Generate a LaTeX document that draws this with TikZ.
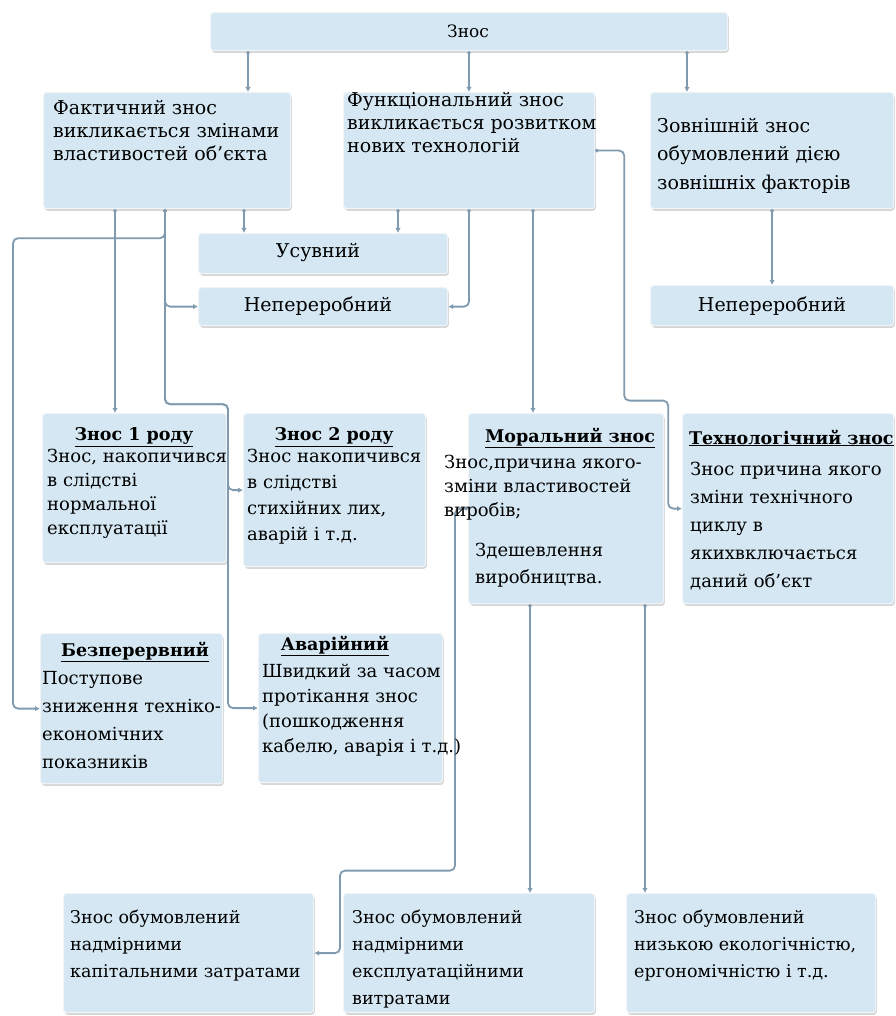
\documentclass[tikz,border=0pt]{standalone}
\usepackage{fontspec}
\setmainfont{DejaVu Serif}
\usetikzlibrary{arrows.meta,shadows,positioning}
\definecolor{boxfill}{RGB}{212,231,243}
\definecolor{boxline}{RGB}{238,244,248}
\definecolor{linkc}{RGB}{128,155,175}
\begin{document}
\begin{tikzpicture}[x=1pt,y=-1pt,
	box/.style={draw=boxline,fill=boxfill,line width=1.2pt,rounded corners=3pt,anchor=north west,inner sep=0pt,
		drop shadow={shadow xshift=1.2pt,shadow yshift=-2.2pt,opacity=.4,fill=black!40}},
	link/.style={draw=linkc,line width=1.8pt,rounded corners=5pt,{Circle[length=3.4pt]}-{Latex[length=5pt,width=5.4pt]}},
	txt/.style={anchor=north west,inner sep=0pt,align=left,font=\fontsize{18}{23}\selectfont},
	hd/.style={inner sep=0pt,font=\fontsize{17.5}{20}\selectfont\bfseries},
	one/.style={inner sep=0pt,font=\fontsize{19}{20}\selectfont}]
	\useasboundingbox (0,0) rectangle (895,1016);
	% boxes
	\foreach \nm/\l/\t/\w/\h in {zn/210/12/517/38,fakt/43/92/247/116,func/343/92/251/116,zovn/650/92/243/116,
		usuv/198/233/249/40,nepl/198/287/249/38,nepr/650/285/243/40,
		rid1/42/413/184/149,rid2/243/413/182/153,moral/468/413/195/190,tekh/682/413/211/190,
		bezp/40/633/182/150,avar/258/633/184/149,
		vytr1/63/893/250/119,vytr2/343/893/251/119,vytr3/626/893/249/119}
	\node[box,minimum width=\w pt,minimum height=\h pt] (\nm) at (\l,\t) {};
	% connectors
	\draw[link] ([xshift=38pt]zn.south west) -- ([xshift=205pt]fakt.north west);
	\draw[link] ([xshift=259pt]zn.south west) -- ([xshift=126pt]func.north west);
	\draw[link] ([xshift=477pt]zn.south west) -- ([xshift=37pt]zovn.north west);
	\draw[link] ([xshift=201pt]fakt.south west) -- ([xshift=46pt]usuv.north west);
	\draw[link] ([xshift=72pt]fakt.south west) -- ([xshift=73pt]rid1.north west);
	\draw[link] ([xshift=122pt]fakt.south west) -- ++(0,29) -- ++(-152,0) |- (bezp.west);
	\draw[link] ([xshift=122pt]fakt.south west) |- (nepl.west);
	\draw[link] ([xshift=122pt]fakt.south west) -- ++(0,195) -- ++(63,0) |- (avar.west);
	\draw[link] ([xshift=122pt]fakt.south west) -- ++(0,195) -- ++(63,0) |- (rid2.west);
	\draw[link] ([xshift=55pt]func.south west) -- ([xshift=200pt]usuv.north west);
	\draw[link] ([xshift=126pt]func.south west) |- (nepl.east);
	\draw[link] ([xshift=190pt]func.south west) -- ([xshift=65pt]moral.north west);
	\draw[link] (func.east) -- ++(29,0) -- ++(0,250) -- ++(44,0) |- (tekh.west);
	\draw[link] (zovn.south) -- (nepr.north);
	\draw[link] ([xshift=62pt]moral.south west) -- ([xshift=187pt]vytr2.north west);
	\draw[link] ([xshift=177pt]moral.south west) -- ([xshift=19pt]vytr3.north west);
	\draw[link] (moral.west) -- ++(-13,0) -- ++(0,362) -- ++(-115,0) |- (vytr1.east);
	% texts
	\node[one,font=\fontsize{17}{18}\selectfont] (t-zn) at (468,31) {Знос};
	\node[txt,font=\fontsize{19}{23}\selectfont] (t-fakt) at (53,100) {Фактичний знос\\викликається змінами\\властивостей об’єкта};
	\node[txt,font=\fontsize{19}{23}\selectfont] (t-func) at (347,92) {Функціональний знос\\викликається розвитком\\нових технологій};
	\node[txt,font=\fontsize{19}{28.5}\selectfont] (t-zovn) at (657,118) {Зовнішній знос\\обумовлений дією\\зовнішніх факторів};
	\node[one] (t-usuv) at (318,253) {Усувний};
	\node[one] (t-nepl) at (318,306) {Непереробний};
	\node[one] (t-nepr) at (772,306) {Непереробний};
	\node[hd] (h-rid1) at (134,437) {\underline{Знос 1 роду}};
	\node[txt,font=\fontsize{18}{24}\selectfont] (t-rid1) at (47,449) {Знос, накопичився\\в слідстві\\нормальної\\експлуатації};
	\node[hd] (h-rid2) at (334,437) {\underline{Знос 2 роду}};
	\node[txt,font=\fontsize{18}{26}\selectfont] (t-rid2) at (247,449) {Знос накопичився\\в слідстві\\стихійних лих,\\аварій і т.д.};
	\node[hd] (h-moral) at (570,438) {\underline{Моральний знос}};
	\node[txt,font=\fontsize{18}{24}\selectfont] (t-moral) at (444,455) {Знос,причина якого-\\зміни властивостей\\виробів;};
	\node[txt,font=\fontsize{18}{27}\selectfont] (t-moral2) at (475,543) {Здешевлення\\виробництва.};
	\node[hd,anchor=west] (h-tekh) at (689,438) {\underline{Технологічний знос}};
	\node[txt,font=\fontsize{18}{28}\selectfont] (t-tekh) at (690,462) {Знос причина якого\\зміни технічного\\циклу в\\якихвключається\\даний об’єкт};
	\node[hd] (h-bezp) at (135,652) {\underline{Безперервний}};
	\node[txt,font=\fontsize{18}{28}\selectfont] (t-bezp) at (42,671) {Поступове\\зниження техніко-\\економічних\\показників};
	\node[hd] (h-avar) at (335,646) {\underline{Аварійний}};
	\node[txt,font=\fontsize{18}{25}\selectfont] (t-avar) at (262,664) {Швидкий за часом\\протікання знос\\(пошкодження\\кабелю, аварія і т.д.)};
	\node[txt,font=\fontsize{17.5}{27}\selectfont] (t-vytr1) at (70,910) {Знос обумовлений\\надмірними\\капітальними затратами};
	\node[txt,font=\fontsize{17.5}{27}\selectfont] (t-vytr2) at (352,910) {Знос обумовлений\\надмірними\\експлуатаційними\\витратами};
	\node[txt,font=\fontsize{17.5}{27}\selectfont] (t-vytr3) at (634,910) {Знос обумовлений\\низькою екологічністю,\\ергономічністю і т.д.};
\end{tikzpicture}
\end{document}
